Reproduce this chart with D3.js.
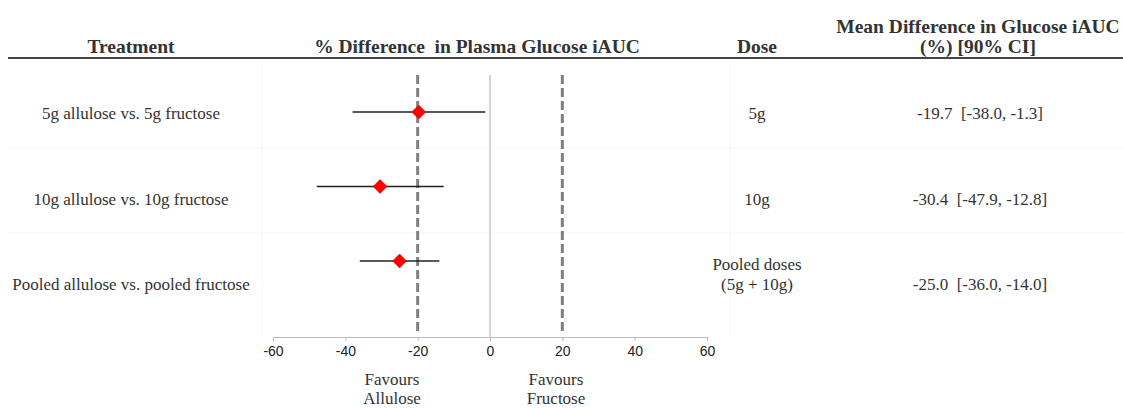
<!DOCTYPE html>
<html><head><meta charset="utf-8">
<script src="https://cdn.jsdelivr.net/npm/d3@7"></script>
<style>body{margin:0;background:#fff}svg{display:block}text{white-space:pre}</style>
</head><body>
<svg id="c" width="1123" height="408"></svg>
<script>
const treatments = ["5g allulose vs. 5g fructose", "10g allulose vs. 10g fructose", "Pooled allulose vs. pooled fructose"];
const doses = [["5g"], ["10g"], ["Pooled doses", "(5g + 10g)"]];
const means = [-19.7, -30.4, -25.0];
const lower = [-38.0, -47.9, -36.0];
const upper = [-1.3, -12.8, -14.0];
const ciLabels = ["-19.7  [-38.0, -1.3]", "-30.4  [-47.9, -12.8]", "-25.0  [-36.0, -14.0]"];
const tickValues = [-60, -40, -20, 0, 20, 40, 60];
const refLines = [-20, 20];
const headers = ["Treatment", "% Difference  in Plasma Glucose iAUC", "Dose"];
const ciHeader = ["Mean Difference in Glucose iAUC", "(%) [90% CI]"];
const favours = [["Favours", "Allulose"], ["Favours", "Fructose"]];

const svg = d3.select("#c");
const serif = "Liberation Serif, Times New Roman, serif";
const txt = "#333";

const x = d3.scaleLinear().domain([-60, 60]).range([273, 707]);
const yPt = d3.scalePoint().domain(d3.range(3)).range([112, 261]);
const yTxt = d3.scalePoint().domain(d3.range(3)).range([113, 284]);

// faint table grid
const faint = "#f7f7f7";
[262, 730].forEach(gx => svg.append("line").attr("x1", gx).attr("x2", gx).attr("y1", 60).attr("y2", 335).attr("stroke", faint));
[148, 233].forEach(gy => svg.append("line").attr("x1", 8).attr("x2", 1123).attr("y1", gy).attr("y2", gy).attr("stroke", faint));

// header
const hx = [131, 477, 757];
svg.selectAll("text.hdr").data(headers).join("text").attr("class", "hdr")
  .attr("x", (d, i) => hx[i]).attr("y", 53).attr("text-anchor", "middle")
  .style("font-family", serif).style("font-weight", "bold").style("font-size", "19.5px").attr("fill", txt).text(d => d);
svg.selectAll("text.hdr2").data(ciHeader).join("text").attr("class", "hdr2")
  .attr("x", 978).attr("y", (d, i) => 33 + i * 20).attr("text-anchor", "middle")
  .style("font-family", serif).style("font-weight", "bold").style("font-size", "19.5px").attr("fill", txt).text(d => d);
svg.append("line").attr("x1", 8).attr("x2", 1123).attr("y1", 58).attr("y2", 58).attr("stroke", "#444").attr("stroke-width", 2);

// axis
const axisG = svg.append("g").attr("transform", "translate(0,337)")
  .call(d3.axisBottom(x).tickValues(tickValues).tickFormat(d => String(d)).tickSize(4).tickSizeOuter(0).tickPadding(5));
axisG.select(".domain").attr("stroke", "#bbb");
axisG.selectAll(".tick line").attr("stroke", "#bbb");
axisG.selectAll(".tick text").style("font-family", "Liberation Sans, Arial, sans-serif").style("font-size", "14px").attr("fill", "#222");

// zero line
svg.append("line").attr("x1", x(0)).attr("x2", x(0)).attr("y1", 75).attr("y2", 337).attr("stroke", "#aaa").attr("stroke-width", 1);

// reference dashed lines
svg.selectAll("line.ref").data(refLines).join("line").attr("class", "ref")
  .attr("x1", d => x(d)).attr("x2", d => x(d)).attr("y1", 75).attr("y2", 333)
  .attr("stroke", "#7f7f7f").attr("stroke-width", 3).attr("stroke-dasharray", "9,4");

// CI lines
svg.selectAll("line.ci").data(means).join("line").attr("class", "ci")
  .attr("x1", (d, i) => x(lower[i])).attr("x2", (d, i) => x(upper[i]))
  .attr("y1", (d, i) => yPt(i)).attr("y2", (d, i) => yPt(i))
  .attr("stroke", "#222").attr("stroke-width", 1.3);

// diamonds
svg.selectAll("path.pt").data(means).join("path").attr("class", "pt")
  .attr("d", d3.symbol(d3.symbolDiamond2, 125))
  .attr("transform", (d, i) => `translate(${x(d)},${yPt(i)})`)
  .attr("fill", "#ff0000").attr("stroke", "#c00000").attr("stroke-width", 0.5);

// row labels
svg.selectAll("text.tr").data(treatments).join("text").attr("class", "tr")
  .attr("x", 131).attr("y", (d, i) => yTxt(i) + 6).attr("text-anchor", "middle")
  .style("font-family", serif).style("font-size", "17px").attr("fill", txt).text(d => d);

doses.forEach((lines, i) => {
  lines.forEach((l, j) => {
    svg.append("text").attr("x", 757).attr("y", yTxt(i) + 6 - (lines.length - 1 - j) * 20)
      .attr("text-anchor", "middle").style("font-family", serif).style("font-size", "17px").attr("fill", txt).text(l);
  });
});

svg.selectAll("text.ci").data(ciLabels).join("text").attr("class", "ci")
  .attr("x", 980).attr("y", (d, i) => yTxt(i) + 6).attr("text-anchor", "middle")
  .style("font-family", serif).style("font-size", "17px").attr("fill", txt).text(d => d);

// favours
const fx = [392, 556];
favours.forEach((lines, i) => {
  lines.forEach((l, j) => {
    svg.append("text").attr("x", fx[i]).attr("y", 385 + j * 19).attr("text-anchor", "middle")
      .style("font-family", serif).style("font-size", "17px").attr("fill", txt).text(l);
  });
});
</script>
</body></html>
